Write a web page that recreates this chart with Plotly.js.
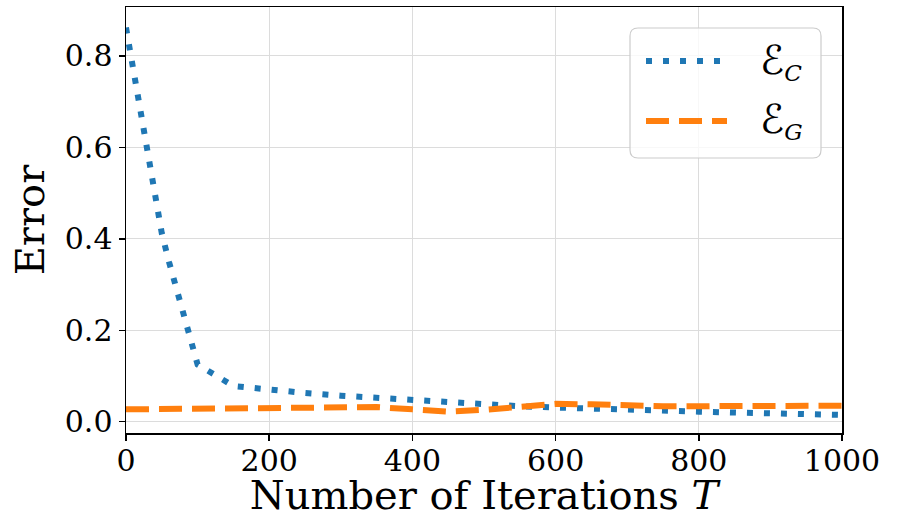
<!DOCTYPE html>
<html>
<head>
<meta charset="utf-8">
<script src="https://cdn.plot.ly/plotly-3.0.1.min.js"></script>
<style>html,body{margin:0;padding:0;background:#fff}#chart{width:899px;height:518px}</style>
</head>
<body>
<div id="chart"></div>
<script>
const iterC = [0,10,20,30,40,50,60,70,80,90,100,150,200,250,300,350,400,450,500,550,600,650,700,750,800,850,900,950,1000];
const errC  = [0.862,0.775,0.680,0.592,0.497,0.412,0.350,0.296,0.240,0.180,0.125,0.078,0.069,0.063,0.057,0.052,0.047,0.042,0.038,0.034,0.031,0.028,0.026,0.023,0.022,0.020,0.018,0.016,0.015];
const iterG = [0,50,100,150,200,250,300,350,400,450,500,550,600,650,700,750,800,850,900,950,1000];
const errG  = [0.027,0.028,0.029,0.030,0.029,0.030,0.032,0.032,0.027,0.022,0.026,0.033,0.039,0.038,0.035,0.034,0.034,0.034,0.033,0.034,0.035];
const xTicks = [0,200,400,600,800,1000];
const yTicks = [0.0,0.2,0.4,0.6,0.8];
const legendNames = ["ℰ<sub><i>C</i></sub>", "ℰ<sub><i>G</i></sub>"];
const colors = ["#1f77b4", "#ff7f0e"];

const FONT = "DejaVu Serif";
const bigE = s => s.replace("ℰ", "<span style=\"font-family:'DejaVu Sans';font-size:40px\">ℰ</span>");

const traces = [
  {x: iterC, y: errC, mode: "lines", name: legendNames[0], line: {color: colors[0], width: 6, dash: "6px,11px"}, showlegend: false},
  {x: iterG, y: errG, mode: "lines", name: legendNames[1], line: {color: colors[1], width: 6, dash: "23px,10px"}, showlegend: false}
];

const layout = {
  width: 899, height: 518,
  margin: {l: 126, r: 57, t: 7, b: 85},
  paper_bgcolor: "#fff", plot_bgcolor: "#fff",
  font: {family: FONT, color: "#000", size: 30},
  xaxis: {
    range: [0, 1000], tickvals: xTicks, ticktext: xTicks.map(String),
    showgrid: true, gridcolor: "#dcdcdc", gridwidth: 1, zeroline: false,
    showline: true, linecolor: "#000", linewidth: 1.5, mirror: true,
    ticks: "outside", ticklen: 6, tickwidth: 1.5, tickcolor: "#000",
    ticklabelstandoff: -6,
    tickfont: {family: FONT, size: 30, color: "#000"},
    title: {text: "Number of Iterations <i>T</i>", font: {family: FONT, size: 40, color: "#000"}, standoff: 14}
  },
  yaxis: {
    range: [-0.0247, 0.907], tickvals: yTicks, ticktext: yTicks.map(v => v.toFixed(1)),
    showgrid: true, gridcolor: "#dcdcdc", gridwidth: 1, zeroline: false,
    showline: true, linecolor: "#000", linewidth: 1.5, mirror: true,
    ticks: "outside", ticklen: 6, tickwidth: 1.5, tickcolor: "#000",
    tickfont: {family: FONT, size: 30, color: "#000"},
    title: {text: "Error", font: {family: FONT, size: 40, color: "#000"}, standoff: 8}
  },
  shapes: [
    {type: "path", xref: "paper", yref: "paper", xsizemode: "pixel", ysizemode: "pixel", xanchor: 1, yanchor: 1,
     path: "M -204,-21 L -29,-21 Q -21,-21 -21,-29 L -21,-143 Q -21,-151 -29,-151 L -204,-151 Q -212,-151 -212,-143 L -212,-29 Q -212,-21 -204,-21 Z",
     fillcolor: "rgba(255,255,255,0.8)", line: {color: "#cccccc", width: 1.2}, layer: "above"},
    {type: "line", xref: "paper", yref: "paper", xsizemode: "pixel", ysizemode: "pixel", xanchor: 1, yanchor: 1,
     x0: -196, x1: -115, y0: -54, y1: -54, line: {color: colors[0], width: 6, dash: "6px,11px"}, layer: "above"},
    {type: "line", xref: "paper", yref: "paper", xsizemode: "pixel", ysizemode: "pixel", xanchor: 1, yanchor: 1,
     x0: -196, x1: -115, y0: -114, y1: -114, line: {color: colors[1], width: 6, dash: "23px,10px"}, layer: "above"}
  ],
  annotations: [
    {xref: "paper", yref: "paper", x: (758-126)/716, y: (433-61)/426, xanchor: "left", yanchor: "middle", showarrow: false,
     text: bigE(legendNames[0]), font: {family: FONT, size: 33, color: "#000"}},
    {xref: "paper", yref: "paper", x: (758-126)/716, y: (433-121)/426, xanchor: "left", yanchor: "middle", showarrow: false,
     text: bigE(legendNames[1]), font: {family: FONT, size: 33, color: "#000"}}
  ]
};

Plotly.newPlot("chart", traces, layout, {displayModeBar: false, staticPlot: true});
</script>
</body>
</html>
